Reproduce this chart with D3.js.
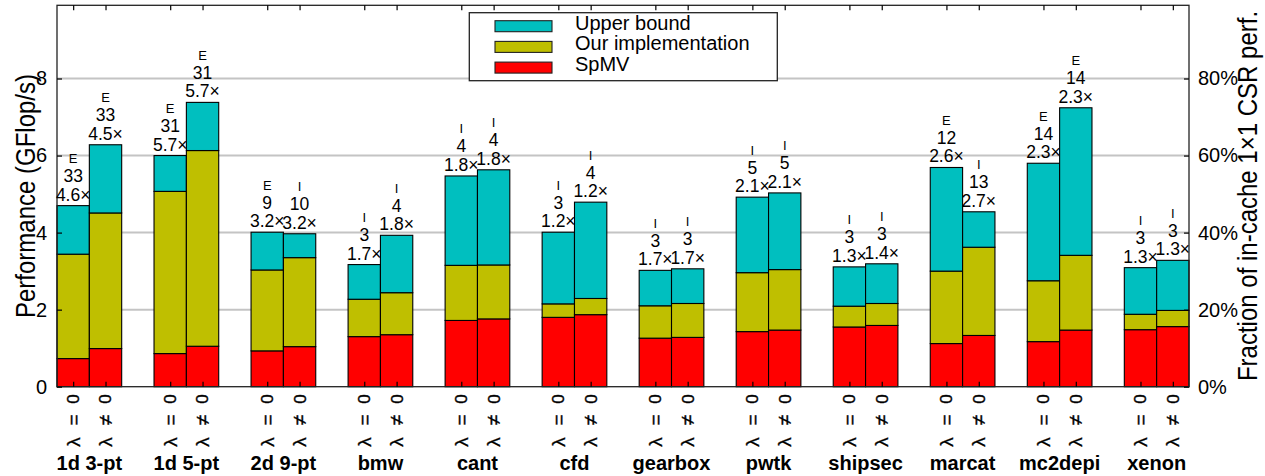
<!DOCTYPE html>
<html>
<head>
<meta charset="utf-8">
<script src="https://cdn.jsdelivr.net/npm/d3@7"></script>
<style>
  html, body { margin: 0; padding: 0; background: #fff; }
  svg { display: block; font-family: "Liberation Sans", Arial, Helvetica, sans-serif; }
</style>
</head>
<body>
<svg id="chart" width="1265" height="476"></svg>
<script>
// ---- data ----
const categories = ["1d 3-pt","1d 5-pt","2d 9-pt","bmw","cant","cfd","gearbox","pwtk","shipsec","marcat","mc2depi","xenon"];
const variantOps = ["=", "\u2260"];   // λ = 0, λ ≠ 0
// per bar (two per category): top of each stacked segment, GFlop/s
const spmv  = [0.73,0.99, 0.86,1.05, 0.93,1.04, 1.30,1.35, 1.72,1.76, 1.80,1.87, 1.26,1.28, 1.43,1.47, 1.55,1.59, 1.12,1.33, 1.17,1.47, 1.48,1.56];
const ours  = [3.44,4.51, 5.07,6.13, 3.03,3.35, 2.27,2.44, 3.15,3.16, 2.15,2.29, 2.10,2.16, 2.96,3.04, 2.09,2.16, 3.00,3.62, 2.75,3.41, 1.88,1.98];
const upper = [4.70,6.28, 6.00,7.38, 4.01,3.97, 3.17,3.93, 5.47,5.63, 4.01,4.79, 3.02,3.06, 4.92,5.03, 3.11,3.19, 5.69,4.54, 5.80,7.24, 3.09,3.28];
const kinds   = ["E","E", "E","E", "E","I", "I","I", "I","I", "I","I", "I","I", "I","I", "I","I", "E","I", "E","E", "I","I"];
const counts  = ["33","33", "31","31", "9","10", "3","4", "4","4", "3","4", "3","3", "5","5", "3","3", "12","13", "14","14", "3","3"];
const speedup = ["4.6","4.5", "5.7","5.7", "3.2","3.2", "1.7","1.8", "1.8","1.8", "1.2","1.2", "1.7","1.7", "2.1","2.1", "1.3","1.4", "2.6","2.7", "2.3","2.3", "1.3","1.3"];
const yTicks = [0, 2, 4, 6, 8];
const pctTicks = [0, 20, 40, 60, 80];
const seriesNames = ["Upper bound", "Our implementation", "SpMV"];
const seriesColors = ["#00bfbf", "#bfbf00", "#ff0000"];

// ---- layout ----
const svg = d3.select("#chart");
const L = 57, R = 1189, T = 5.3, B = 386.7;
const x = d3.scaleLinear().domain([0, 35]).range([L, R]);
const y = d3.scaleLinear().domain([0, 9.9]).range([B, T]);
const yPct = d3.scaleLinear().domain([0, 99]).range([B, T]);

const bars = [];
categories.forEach((c, gi) => {
  variantOps.forEach((op, vi) => {
    const i = gi * 2 + vi;
    bars.push({ i, pos: gi * 3 + vi, cat: c, op,
      segs: [[0, spmv[i], 2], [spmv[i], ours[i], 1], [ours[i], upper[i], 0]] });
  });
});
const bw = x(1) - x(0);

// gridlines
svg.append("g").selectAll("line").data(yTicks.filter(d => d > 0)).join("line")
  .attr("x1", L).attr("x2", R).attr("y1", d => y(d)).attr("y2", d => y(d))
  .attr("stroke", "#c4c4c4").attr("stroke-width", 2);

// bars
const gb = svg.append("g");
bars.forEach(b => {
  gb.selectAll(null).data(b.segs).join("rect")
    .attr("x", x(b.pos)).attr("width", bw)
    .attr("y", d => y(d[1])).attr("height", d => y(d[0]) - y(d[1]))
    .attr("fill", d => seriesColors[d[2]])
    .attr("stroke", "#000").attr("stroke-width", 1.1);
});

// frame
svg.append("rect").attr("x", L).attr("y", T).attr("width", R - L).attr("height", B - T)
  .attr("fill", "none").attr("stroke", "#222").attr("stroke-width", 1.3);

// axes with inward ticks
const leftAxis = d3.axisLeft(y).tickValues(yTicks).tickSize(-5).tickPadding(10).tickFormat(d3.format("d"));
const gl = svg.append("g").attr("transform", `translate(${L},0)`).call(leftAxis);
const rightAxis = d3.axisRight(yPct).tickValues(pctTicks).tickSize(-5).tickPadding(9).tickFormat(d => d + "%");
const gr = svg.append("g").attr("transform", `translate(${R},0)`).call(rightAxis);
const barCenters = bars.map(b => b.pos + 0.5);
const bottomAxis = d3.axisBottom(x).tickValues(barCenters).tickSize(-5).tickFormat("");
const gbt = svg.append("g").attr("transform", `translate(0,${B})`).call(bottomAxis);
const topAxis = d3.axisTop(x).tickValues(barCenters).tickSize(-5).tickFormat("");
const gtp = svg.append("g").attr("transform", `translate(0,${T})`).call(topAxis);
[gl, gr, gbt, gtp].forEach(g => {
  g.select(".domain").remove();
  g.selectAll(".tick line").attr("stroke", "#000").attr("stroke-width", 1.2);
  g.selectAll("text").attr("font-size", 20).attr("fill", "#000")
    .attr("font-family", "'Liberation Sans', Arial, sans-serif");
});

// annotations above bars
const ga = svg.append("g").attr("text-anchor", "middle").attr("fill", "#000");
bars.forEach(b => {
  const cx = x(b.pos + 0.5), top = y(upper[b.i]);
  ga.append("text").attr("x", cx).attr("y", top - 42.5).attr("font-size", 13).text(kinds[b.i]);
  ga.append("text").attr("x", cx).attr("y", top - 23.5).attr("font-size", 17.5).text(counts[b.i]);
  ga.append("text").attr("x", cx).attr("y", top - 5).attr("font-size", 17.5).text(speedup[b.i] + "\u00d7");
});

// lambda labels (rotated, glyph by glyph: λ, operator, 0)
const gv = svg.append("g").attr("stroke", "#000").attr("stroke-width", 0.35);
bars.forEach(b => {
  const cx = x(b.pos + 0.5);
  const parts = [["\u03bb", 442, 19], [b.op, 420, 19], ["0", 399, 17]];
  parts.forEach(([t, cy, fs]) => {
    gv.append("text")
      .attr("transform", `translate(${cx},${cy}) rotate(-90)`)
      .attr("text-anchor", "middle").attr("dy", "0.35em")
      .attr("font-size", fs).text(t);
  });
});

// category labels
svg.append("g").selectAll("text").data(categories).join("text")
  .attr("x", (d, gi) => x(gi * 3 + 1)).attr("y", 470)
  .attr("text-anchor", "middle").attr("font-weight", "bold").attr("font-size", 20)
  .text(d => d);

// axis titles
svg.append("text").attr("transform", "translate(35,196) rotate(-90) scale(1,1.15)")
  .attr("text-anchor", "middle").attr("font-size", 24).text("Performance (GFlop/s)");
svg.append("text").attr("transform", "translate(1257,196) rotate(-90) scale(1,1.15)")
  .attr("text-anchor", "middle").attr("font-size", 24).text("Fraction of in-cache 1\u00d71 CSR perf.");

// legend
const lg = svg.append("g");
lg.append("rect").attr("x", 469.3).attr("y", 12.7).attr("width", 308).attr("height", 68)
  .attr("fill", "#fff").attr("stroke", "#222").attr("stroke-width", 1.3);
seriesNames.forEach((n, k) => {
  const cy = 26.2 + k * 20.7;
  lg.append("rect").attr("x", 495).attr("y", cy - 5.5).attr("width", 57).attr("height", 11)
    .attr("fill", seriesColors[k]).attr("stroke", "#222").attr("stroke-width", 1.1);
  lg.append("text").attr("x", 575).attr("y", cy + 3.3).attr("font-size", 20).text(n);
});
</script>
</body>
</html>
